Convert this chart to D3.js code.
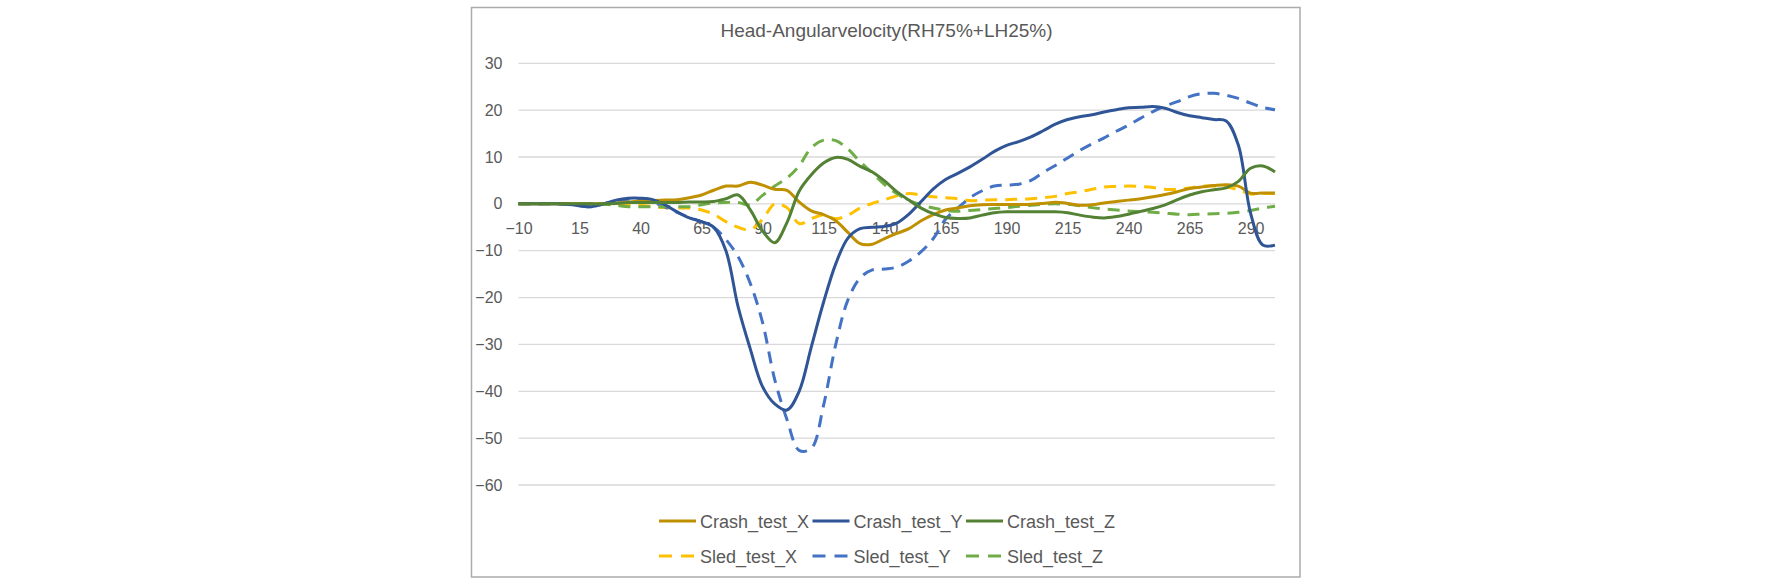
<!DOCTYPE html>
<html>
<head>
<meta charset="utf-8">
<script src="https://cdn.jsdelivr.net/npm/d3@7/dist/d3.min.js"></script>
<style>
  html, body { margin: 0; padding: 0; background: #fff; }
  svg text { font-family: "Liberation Sans", Arial, sans-serif; fill: #595959; }
</style>
</head>
<body>
<svg id="chart" width="1772" height="585"></svg>
<script>
// time axis (shared by every series)
const timeMs = [-10, -5, 0, 5, 10, 15, 20, 25, 30, 35, 40, 45, 50, 55, 60, 65, 70, 75, 80, 85, 90, 95,
  100, 105, 110, 115, 120, 125, 130, 135, 140, 145, 150, 155, 160, 165, 170, 175, 180, 185, 190, 195,
  200, 205, 210, 215, 220, 225, 230, 235, 240, 245, 250, 255, 260, 265, 270, 275, 280, 285, 290, 295, 300];

const crashX = [0, 0, 0, 0, 0, 0, 0, 0.1, 0.2, 0.4, 0.6, 0.7, 0.8, 0.9, 1.3, 1.9, 2.9, 3.8, 3.8, 4.6, 4.0, 3.1,
  2.9, 0.4, -1.5, -2.3, -3.6, -6.1, -8.5, -8.6, -7.4, -6.3, -5.3, -3.6, -2.3, -1.3, -0.9, -0.4, -0.2, -0.15, -0.15, -0.15,
  -0.1, 0.1, 0.35, 0.1, -0.3, -0.2, 0.2, 0.5, 0.8, 1.1, 1.5, 2.0, 2.6, 3.3, 3.6, 3.9, 4.1, 3.8, 2.3, 2.3, 2.3];

const crashY = [0, 0, 0, 0, -0.1, -0.4, -0.6, 0, 0.8, 1.2, 1.2, 0.9, -0.2, -1.7, -3.0, -3.8, -5.0, -10.0, -22.0, -31.0, -39.0, -42.7,
  -44.0, -40.0, -30.5, -21.0, -12.8, -7.3, -5.3, -5.0, -4.8, -4.1, -2.2, 0.5, 3.2, 5.2, 6.5, 7.9, 9.5, 11.2, 12.5, 13.3,
  14.3, 15.6, 17.0, 18.0, 18.6, 19.0, 19.6, 20.1, 20.5, 20.6, 20.8, 20.4, 19.5, 18.8, 18.4, 18.0, 17.7, 12.5, -2.0, -8.8, -8.8];

const crashZ = [0, 0, 0, 0, 0, 0, 0, 0, 0.1, 0.3, 0.3, 0.3, 0.3, 0.3, 0.4, 0.4, 0.5, 1.1, 1.9, -1.3, -5.8, -8.3,
  -4.0, 2.7, 6.2, 8.7, 9.9, 9.5, 8.0, 6.8, 4.9, 2.6, 0.8, -0.9, -2.1, -2.9, -3.1, -3.0, -2.4, -1.9, -1.7, -1.7,
  -1.7, -1.7, -1.7, -1.9, -2.4, -2.8, -3.0, -2.7, -2.2, -1.6, -1.0, -0.2, 0.9, 1.9, 2.6, 3.0, 3.4, 4.8, 7.6, 8.1, 6.8];

const sledX = [0, 0, 0, 0, 0, 0, 0, 0, -0.2, -0.2, -0.3, -0.6, -0.8, -0.9, -0.9, -1.3, -2.2, -3.8, -5.0, -5.5, -3.3, 0.0,
  -0.8, -4.2, -3.2, -2.3, -3.2, -2.4, -0.9, 0.1, 0.9, 1.7, 2.2, 1.9, 1.5, 1.3, 1.1, 0.7, 0.8, 0.9, 0.9, 1.0,
  1.1, 1.3, 1.6, 2.2, 2.6, 3.1, 3.6, 3.7, 3.8, 3.7, 3.5, 3.1, 3.1, 3.4, 3.8, 3.8, 3.6, 3.0, 2.1, 2.2, 2.2];

const sledY = [0, 0, 0, 0, -0.1, -0.4, -0.6, 0, 0.7, 1.0, 0.9, 0.4, -0.7, -1.8, -2.9, -3.8, -5.0, -7.6, -11.3, -17.0, -25.3, -37.5,
  -46.0, -52.6, -52.2, -43.0, -30.0, -20.5, -15.8, -14.1, -13.9, -13.5, -12.2, -10.2, -7.4, -3.3, -0.9, 1.3, 2.8, 3.8, 4.0, 4.2,
  5.0, 6.7, 8.2, 9.8, 11.4, 12.8, 14.1, 15.5, 16.8, 18.3, 19.7, 20.9, 21.8, 22.9, 23.5, 23.6, 23.2, 22.5, 21.5, 20.6, 20.1];

const sledZ = [0, 0, 0, 0, 0, 0, 0, -0.1, -0.3, -0.6, -0.6, -0.6, -0.6, -0.6, -0.6, -0.2, 0.2, 0.3, 0.3, -0.2, 1.8, 3.8,
  5.5, 8.1, 12.0, 13.6, 13.5, 11.7, 9.0, 6.6, 4.1, 2.2, 0.7, -0.2, -0.9, -1.4, -1.6, -1.4, -1.2, -1.0, -0.8, -0.5,
  -0.3, -0.1, 0, -0.1, -0.4, -0.8, -1.1, -1.3, -1.5, -1.7, -1.8, -2.0, -2.2, -2.3, -2.2, -2.1, -2.0, -1.8, -1.4, -0.9, -0.5];

const seriesNames = ["Crash_test_X", "Crash_test_Y", "Crash_test_Z", "Sled_test_X", "Sled_test_Y", "Sled_test_Z"];
const xTickLabels = [-10, 15, 40, 65, 90, 115, 140, 165, 190, 215, 240, 265, 290];
const yTicks = [-60, -50, -40, -30, -20, -10, 0, 10, 20, 30];
const chartTitle = "Head-Angularvelocity(RH75%+LH25%)";

// styles
const colors = ["#BF9000", "#2F5597", "#548235", "#FFC000", "#4472C4", "#70AD47"];
const dashed = [false, false, false, true, true, true];

const svg = d3.select("#chart");
const PLOT = { left: 518.5, right: 1275, top: 63.3, bottom: 485 };

// outer frame
svg.append("rect")
  .attr("x", 471.5).attr("y", 7.5)
  .attr("width", 828.5).attr("height", 569.5)
  .attr("fill", "#fff")
  .attr("stroke", "#ABABAB")
  .attr("stroke-width", 1.5);

svg.append("text")
  .attr("x", 886.5).attr("y", 37)
  .attr("text-anchor", "middle")
  .attr("font-size", 19)
  .text(chartTitle);

const x = d3.scaleLinear().domain([-10, 300]).range([PLOT.left, PLOT.right]);
const y = d3.scaleLinear().domain([-60, 30]).range([PLOT.bottom, PLOT.top]);

// gridlines
svg.append("g")
  .selectAll("line")
  .data(yTicks)
  .join("line")
  .attr("x1", PLOT.left).attr("x2", PLOT.right)
  .attr("y1", d => y(d)).attr("y2", d => y(d))
  .attr("stroke", "#D9D9D9")
  .attr("stroke-width", 1.3);

const yAxis = d3.axisLeft(y).tickValues(yTicks).tickSize(0).tickPadding(16);
svg.append("g")
  .attr("transform", `translate(${PLOT.left},0)`)
  .call(yAxis)
  .call(g => g.select(".domain").remove())
  .call(g => g.selectAll("text").attr("font-size", 16).attr("font-family", null).attr("fill", null));

const xAxis = d3.axisBottom(x).tickValues(xTickLabels).tickSize(0).tickPadding(19);
svg.append("g")
  .attr("transform", `translate(0,${y(0)})`)
  .call(xAxis)
  .call(g => g.select(".domain").remove())
  .call(g => g.selectAll("text").attr("font-size", 16).attr("font-family", null).attr("fill", null));

const series = [crashX, crashY, crashZ, sledX, sledY, sledZ];

const lineFunc = d3.line()
  .x((d, i) => x(timeMs[i]))
  .y(d => y(d))
  .curve(d3.curveCatmullRom.alpha(0.5));

// draw sled first so the crash lines sit on top like the original
const order = [3, 4, 5, 0, 1, 2];
svg.append("g")
  .selectAll("path")
  .data(order)
  .join("path")
  .attr("d", i => lineFunc(series[i]))
  .attr("fill", "none")
  .attr("stroke", i => colors[i])
  .attr("stroke-width", 3)
  .attr("stroke-linejoin", "round")
  .attr("stroke-dasharray", i => dashed[i] ? "12,8" : null);

// legend, two rows of three
const legend = svg.append("g");
const colX = [659, 812.5, 966];
const rowY = [521, 556];
seriesNames.forEach((name, i) => {
  const lx = colX[i % 3];
  const ly = rowY[Math.floor(i / 3)];
  legend.append("line")
    .attr("x1", lx).attr("x2", lx + 37)
    .attr("y1", ly).attr("y2", ly)
    .attr("stroke", colors[i])
    .attr("stroke-width", 3)
    .attr("stroke-dasharray", dashed[i] ? "13,9" : null);
  legend.append("text")
    .attr("x", lx + 41).attr("y", ly + 6.5)
    .attr("font-size", 18)
    .text(name);
});
</script>
</body>
</html>
